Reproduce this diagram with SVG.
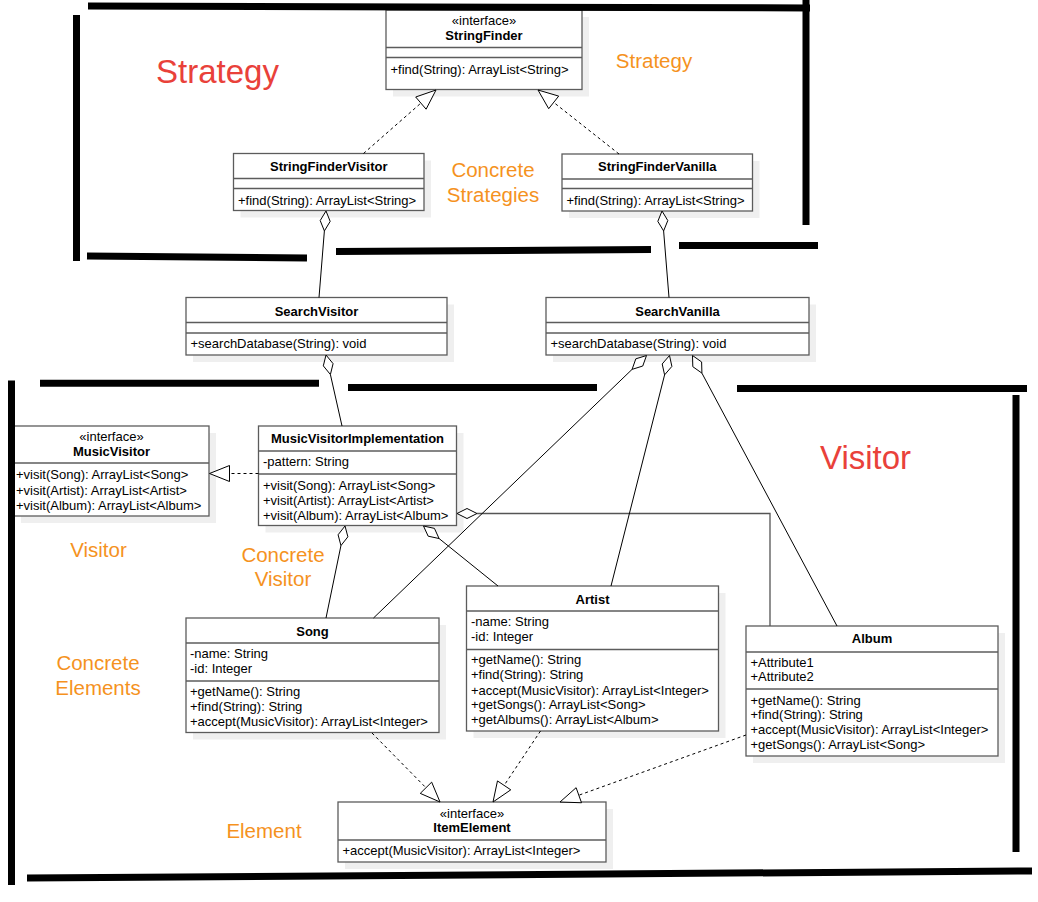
<svg xmlns="http://www.w3.org/2000/svg" width="1038" height="902" viewBox="0 0 1038 902">
<style>
.sh{fill:#efefef}
.box{fill:#fff;stroke:#5c5c5c;stroke-width:1.3}
.dv{stroke:#5c5c5c;stroke-width:1.3}
text{font-family:"Liberation Sans",Arial,Helvetica,sans-serif;fill:#000}
.t{font-size:13px}
.c{font-size:13px;text-anchor:middle}
.b{font-size:13px;font-weight:bold;text-anchor:middle}
.ln{fill:none;stroke:#000;stroke-width:1}
.ds{fill:none;stroke:#000;stroke-width:1;stroke-dasharray:3,3}
.dia{fill:#fff;stroke:#000;stroke-width:1}
.tri{fill:#fff;stroke:#000;stroke-width:1}
.or{font-size:20.5px;fill:#f5921e;text-anchor:middle}
.rd{font-size:33px;fill:#e9413a}
.thick{stroke:#000;stroke-width:7;fill:none}
</style>

<g id="StringFinder">
<rect class="sh" x="393" y="17" width="196" height="79.5"/>
<rect class="box" x="386" y="10" width="196" height="79.5"/>
<line class="dv" x1="386" y1="47.5" x2="582" y2="47.5"/>
<line class="dv" x1="386" y1="57.5" x2="582" y2="57.5"/>
<text class="c" x="484" y="25">«interface»</text>
<text class="b" x="484" y="40">StringFinder</text>
<text class="t" x="390.5" y="73.5">+find(String): ArrayList&lt;String&gt;</text>
</g>

<g id="StringFinderVisitor">
<rect class="sh" x="240.5" y="160.5" width="190.5" height="57"/>
<rect class="box" x="233.5" y="153.5" width="190.5" height="57"/>
<line class="dv" x1="233.5" y1="178.5" x2="424" y2="178.5"/>
<line class="dv" x1="233.5" y1="188.5" x2="424" y2="188.5"/>
<text class="b" x="328.75" y="171">StringFinderVisitor</text>
<text class="t" x="238" y="204.5">+find(String): ArrayList&lt;String&gt;</text>
</g>

<g id="StringFinderVanilla">
<rect class="sh" x="569" y="161" width="190.5" height="57"/>
<rect class="box" x="562" y="154" width="190.5" height="57"/>
<line class="dv" x1="562" y1="179" x2="752.5" y2="179"/>
<line class="dv" x1="562" y1="188.5" x2="752.5" y2="188.5"/>
<text class="b" x="657.25" y="171">StringFinderVanilla</text>
<text class="t" x="566.5" y="204.5">+find(String): ArrayList&lt;String&gt;</text>
</g>

<g id="SearchVisitor">
<rect class="sh" x="193" y="304.5" width="261" height="57.5"/>
<rect class="box" x="186" y="297.5" width="261" height="57.5"/>
<line class="dv" x1="186" y1="322.5" x2="447" y2="322.5"/>
<line class="dv" x1="186" y1="333" x2="447" y2="333"/>
<text class="b" x="316.5" y="316">SearchVisitor</text>
<text class="t" x="190.5" y="347.5">+searchDatabase(String): void</text>
</g>

<g id="SearchVanilla">
<rect class="sh" x="553" y="304.5" width="263" height="57.5"/>
<rect class="box" x="546" y="297.5" width="263" height="57.5"/>
<line class="dv" x1="546" y1="322.5" x2="809" y2="322.5"/>
<line class="dv" x1="546" y1="333" x2="809" y2="333"/>
<text class="b" x="677.5" y="316">SearchVanilla</text>
<text class="t" x="550.5" y="347.5">+searchDatabase(String): void</text>
</g>

<g id="MusicVisitor">
<rect class="sh" x="21" y="433" width="195" height="90"/>
<rect class="box" x="14" y="426" width="195" height="90"/>
<line class="dv" x1="14" y1="463" x2="209" y2="463"/>
<text class="c" x="111.5" y="441">«interface»</text>
<text class="b" x="111.5" y="456">MusicVisitor</text>
<text class="t" x="16" y="479">+visit(Song): ArrayList&lt;Song&gt;</text>
<text class="t" x="16" y="494.5">+visit(Artist): ArrayList&lt;Artist&gt;</text>
<text class="t" x="16" y="509.5">+visit(Album): ArrayList&lt;Album&gt;</text>
</g>

<g id="MusicVisitorImplementation">
<rect class="sh" x="265.5" y="433" width="198" height="99.5"/>
<rect class="box" x="258.5" y="426" width="198" height="99.5"/>
<line class="dv" x1="258.5" y1="451" x2="456.5" y2="451"/>
<line class="dv" x1="258.5" y1="474" x2="456.5" y2="474"/>
<text class="b" x="357.5" y="443">MusicVisitorImplementation</text>
<text class="t" x="263" y="466">-pattern: String</text>
<text class="t" x="263" y="489.5">+visit(Song): ArrayList&lt;Song&gt;</text>
<text class="t" x="263" y="504.5">+visit(Artist): ArrayList&lt;Artist&gt;</text>
<text class="t" x="263" y="519.5">+visit(Album): ArrayList&lt;Album&gt;</text>
</g>

<g id="Song">
<rect class="sh" x="193" y="625" width="253" height="114.5"/>
<rect class="box" x="186" y="618" width="253" height="114.5"/>
<line class="dv" x1="186" y1="643" x2="439" y2="643"/>
<line class="dv" x1="186" y1="681" x2="439" y2="681"/>
<text class="b" x="312.5" y="635.5">Song</text>
<text class="t" x="190" y="658">-name: String</text>
<text class="t" x="190" y="673">-id: Integer</text>
<text class="t" x="190" y="695.5">+getName(): String</text>
<text class="t" x="190" y="711">+find(String): String</text>
<text class="t" x="190" y="726">+accept(MusicVisitor): ArrayList&lt;Integer&gt;</text>
</g>

<g id="Artist">
<rect class="sh" x="473.5" y="593" width="252" height="145"/>
<rect class="box" x="466.5" y="586" width="252" height="145"/>
<line class="dv" x1="466.5" y1="611" x2="718.5" y2="611"/>
<line class="dv" x1="466.5" y1="649.5" x2="718.5" y2="649.5"/>
<text class="b" x="592.5" y="603.5">Artist</text>
<text class="t" x="471" y="626">-name: String</text>
<text class="t" x="471" y="641">-id: Integer</text>
<text class="t" x="471" y="664">+getName(): String</text>
<text class="t" x="471" y="679">+find(String): String</text>
<text class="t" x="471" y="694.5">+accept(MusicVisitor): ArrayList&lt;Integer&gt;</text>
<text class="t" x="471" y="709">+getSongs(): ArrayList&lt;Song&gt;</text>
<text class="t" x="471" y="724">+getAlbums(): ArrayList&lt;Album&gt;</text>
</g>

<g id="Album">
<rect class="sh" x="753" y="633" width="252" height="130"/>
<rect class="box" x="746" y="626" width="252" height="130"/>
<line class="dv" x1="746" y1="652" x2="998" y2="652"/>
<line class="dv" x1="746" y1="689" x2="998" y2="689"/>
<text class="b" x="872" y="643">Album</text>
<text class="t" x="750.5" y="667">+Attribute1</text>
<text class="t" x="750.5" y="681">+Attribute2</text>
<text class="t" x="750.5" y="704.5">+getName(): String</text>
<text class="t" x="750.5" y="719">+find(String): String</text>
<text class="t" x="750.5" y="734">+accept(MusicVisitor): ArrayList&lt;Integer&gt;</text>
<text class="t" x="750.5" y="749">+getSongs(): ArrayList&lt;Song&gt;</text>
</g>

<g id="ItemElement">
<rect class="sh" x="345" y="809" width="268" height="60"/>
<rect class="box" x="338" y="802" width="268" height="60"/>
<line class="dv" x1="338" y1="840" x2="606" y2="840"/>
<text class="c" x="472" y="818">«interface»</text>
<text class="b" x="472" y="832">ItemElement</text>
<text class="t" x="342.5" y="855">+accept(MusicVisitor): ArrayList&lt;Integer&gt;</text>
</g>

<g id="connectors">
<!-- realizations -->
<line class="ds" x1="363.5" y1="153.5" x2="420.9" y2="103.1"/>
<polygon class="tri" points="436,90 415.7,97 426.1,109.2"/>
<line class="ds" x1="619" y1="154" x2="553.7" y2="102.4"/>
<polygon class="tri" points="538,90 558.7,96.1 548.7,108.7"/>
<line class="ds" x1="258.5" y1="473.5" x2="229.5" y2="473.5"/>
<polygon class="tri" points="209.5,473.5 229.5,465.5 229.5,481.5"/>
<line class="ds" x1="372" y1="733" x2="425.96" y2="787.76"/>
<polygon class="tri" points="440,802 431.66,782.14 420.26,793.38"/>
<line class="ds" x1="540.5" y1="731" x2="504.12" y2="785.38"/>
<polygon class="tri" points="493,802 510.77,789.83 497.47,780.93"/>
<line class="ds" x1="746" y1="735" x2="578.82" y2="795.22"/>
<polygon class="tri" points="560,802 581.53,802.75 576.11,787.69"/>
<!-- aggregations -->
<line class="ln" x1="324.38" y1="230.94" x2="319" y2="297.5"/>
<polygon class="dia" points="326,211 330.18,221.38 324.38,230.94 320.2,220.56"/>
<line class="ln" x1="663.62" y1="230.94" x2="669" y2="297.5"/>
<polygon class="dia" points="662,211 667.8,220.56 663.62,230.94 657.82,221.38"/>
<line class="ln" x1="330.4" y1="374.51" x2="342" y2="426"/>
<polygon class="dia" points="326,355 333.08,363.66 330.4,374.51 323.32,365.86"/>
<line class="ln" x1="340.95" y1="545.59" x2="326" y2="618"/>
<polygon class="dia" points="345,526 347.88,536.8 340.95,545.59 338.08,534.78"/>
<line class="ln" x1="439.08" y1="538.54" x2="498" y2="586"/>
<polygon class="dia" points="423.5,526 434.43,528.38 439.08,538.54 428.15,536.16"/>
<polyline points="477,513.5 770,513.5 770,626" fill="none" stroke="#555" stroke-width="1.3"/>
<polygon class="dia" points="457,513.5 467,508.5 477,513.5 467,518.5"/>
<line class="ln" x1="632.08" y1="369.36" x2="373.5" y2="618"/>
<polygon class="dia" points="646.5,355.5 642.76,366.03 632.08,369.36 635.82,358.83"/>
<line class="ln" x1="664.58" y1="374.89" x2="611" y2="586"/>
<polygon class="dia" points="669.5,355.5 671.89,366.42 664.58,374.89 662.19,363.96"/>
<line class="ln" x1="701.92" y1="373.14" x2="837" y2="626"/>
<polygon class="dia" points="692.5,355.5 701.62,361.96 701.92,373.14 692.8,366.68"/>
</g>

<g id="labels">
<text class="rd" x="156" y="83">Strategy</text>
<text class="or" x="654" y="68">Strategy</text>
<text class="or" x="493" y="177">Concrete</text>
<text class="or" x="493" y="202">Strategies</text>
<text class="rd" x="820" y="469">Visitor</text>
<text class="or" x="98.5" y="557">Visitor</text>
<text class="or" x="283" y="562">Concrete</text>
<text class="or" x="283" y="586">Visitor</text>
<text class="or" x="98" y="670">Concrete</text>
<text class="or" x="98" y="695">Elements</text>
<text class="or" x="264" y="838">Element</text>
</g>

<g id="frames">
<line class="thick" x1="88" y1="6" x2="810" y2="8"/>
<line class="thick" x1="806" y1="0" x2="806" y2="225"/>
<line class="thick" x1="76.5" y1="15" x2="76.5" y2="261"/>
<line class="thick" x1="87" y1="256" x2="307" y2="258"/>
<line class="thick" x1="336" y1="251.5" x2="651" y2="249.5"/>
<line class="thick" x1="679" y1="245.5" x2="818" y2="245.5"/>
<line class="thick" x1="40" y1="383.3" x2="319" y2="383.3"/>
<line class="thick" x1="348" y1="387.5" x2="597" y2="387.5"/>
<line class="thick" x1="737" y1="388.5" x2="1027" y2="388.5"/>
<line class="thick" x1="1016" y1="395" x2="1016" y2="852"/>
<line class="thick" x1="11.5" y1="380.5" x2="11.5" y2="885"/>
<line class="thick" x1="27" y1="878" x2="1032" y2="871"/>
</g>
</svg>
